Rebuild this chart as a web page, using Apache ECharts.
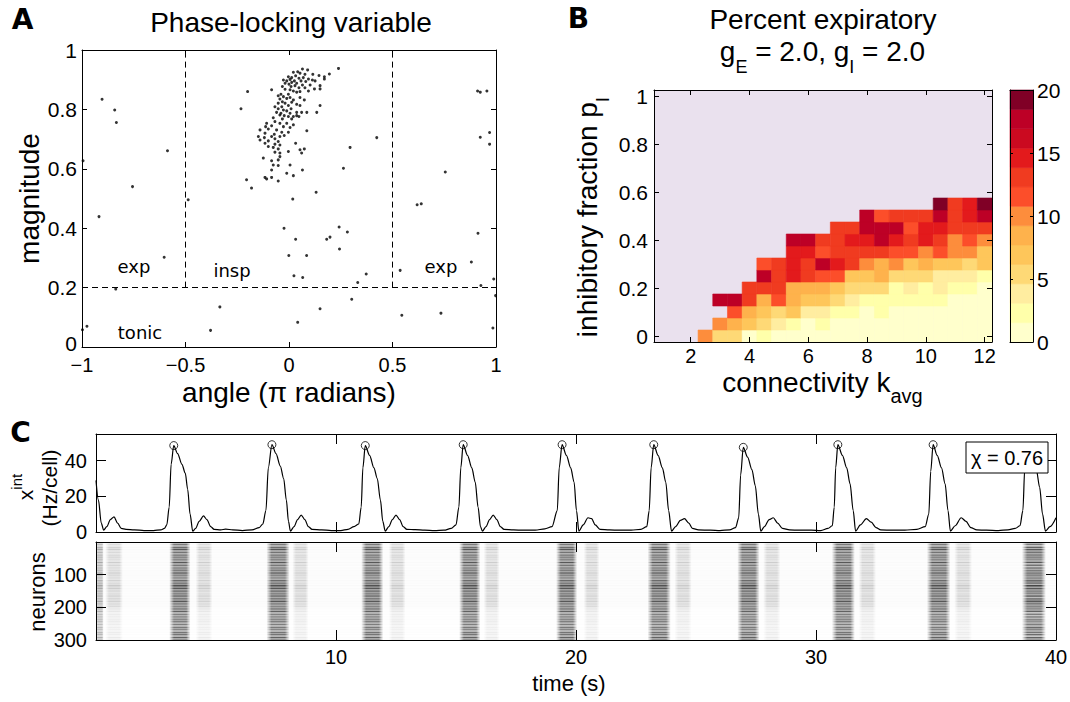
<!DOCTYPE html>
<html><head><meta charset="utf-8">
<script src="https://cdn.jsdelivr.net/npm/echarts@6/dist/echarts.min.js"></script>
<style>html,body{margin:0;padding:0;background:#fff}#c{width:1070px;height:702px}</style>
</head><body><div id="c"></div>
<script>
// ================= Panel A: phase-locking variable =================
const phasePoints = [
 [-0.903,0.834],[-0.842,0.798],[-0.834,0.756],[-0.587,0.661],[-0.756,0.540],[-0.918,0.439],[-0.603,0.302],[-0.837,0.195],
 [-0.976,0.070],[-0.995,0.627],[-0.998,0.058],[-0.487,0.496],[-0.334,0.135],[-0.379,0.056],[0.018,0.498],[-0.024,0.400],
 [0.032,0.363],[-0.001,0.308],[0.085,0.308],[0.024,0.240],[0.066,0.234],[0.042,0.083],[0.131,0.521],[0.150,0.129],
 [0.242,0.404],[0.282,0.387],[0.182,0.363],[0.198,0.370],[0.244,0.330],[0.295,0.672],[0.424,0.705],[0.373,0.246],
 [0.332,0.217],[0.303,0.161],[0.537,0.258],[0.545,0.107],[0.734,0.114],[0.619,0.479],[0.639,0.482],[0.755,0.589],
 [0.911,0.862],[0.924,0.858],[0.956,0.862],[0.924,0.706],[0.969,0.722],[0.969,0.683],[0.913,0.383],[0.881,0.286],
 [0.927,0.207],[0.989,0.229],[0.998,0.173],[0.985,0.064],
 [0.065,0.936],[0.090,0.933],[0.042,0.927],[0.021,0.925],[0.053,0.922],[0.077,0.918],[0.115,0.918],[0.145,0.914],
 [0.171,0.910],[0.195,0.919],[0.239,0.938],
 [-0.003,0.910],[0.013,0.907],[0.032,0.913],[0.048,0.905],[0.069,0.907],[0.094,0.902],[0.113,0.899],[-0.027,0.899],
 [-0.011,0.896],[0.005,0.901],[0.026,0.896],[0.058,0.896],[0.081,0.894],[0.126,0.896],[0.171,0.902],
 [-0.019,0.888],[0.000,0.885],[0.013,0.891],[0.037,0.888],[0.065,0.882],[0.102,0.882],[0.150,0.880],[-0.032,0.877],
 [0.010,0.877],[0.029,0.880],[0.048,0.873],[0.077,0.873],[0.123,0.869],[0.150,0.869],[-0.084,0.866],[-0.200,0.860],
 [-0.019,0.868],[0.005,0.866],[0.021,0.862],[0.037,0.858],[-0.039,0.851],[-0.003,0.851],[0.053,0.860],[0.094,0.862],
 [-0.052,0.846],[-0.027,0.843],[-0.044,0.835],[-0.011,0.837],[0.005,0.840],[0.021,0.832],[0.053,0.840],[0.074,0.832],
 [-0.032,0.826],[-0.052,0.821],[-0.019,0.821],[0.013,0.824],[0.037,0.817],[-0.068,0.809],[-0.035,0.809],[-0.003,0.813],
 [0.053,0.813],[0.150,0.813],[-0.232,0.802],
 [-0.052,0.802],[-0.027,0.798],[-0.011,0.795],[0.010,0.802],[-0.060,0.790],[-0.039,0.787],[0.005,0.787],[0.037,0.790],
 [0.061,0.790],[0.086,0.790],[0.134,0.790],
 [-0.044,0.781],[-0.023,0.779],[-0.003,0.776],[0.021,0.776],[0.037,0.779],[-0.076,0.772],[-0.032,0.768],[0.013,0.768],
 [0.048,0.776],
 [-0.108,0.753],[-0.068,0.759],[-0.044,0.753],[-0.011,0.753],[0.021,0.748],[-0.113,0.742],[-0.084,0.745],[-0.027,0.742],
 [0.005,0.739],
 [-0.140,0.731],[-0.100,0.734],[-0.060,0.731],[-0.035,0.723],[-0.003,0.723],[0.086,0.728],[-0.116,0.720],[-0.071,0.716],
 [-0.148,0.709],[-0.119,0.705],[-0.084,0.709],[-0.044,0.709],[-0.023,0.712],[-0.140,0.697],[-0.100,0.694],[-0.068,0.701],
 [-0.052,0.692],
 [-0.116,0.686],[-0.068,0.683],[-0.044,0.680],[0.032,0.686],[-0.100,0.675],[-0.076,0.672],
 [-0.052,0.667],[0.053,0.664],[0.074,0.667],[-0.068,0.656],[-0.044,0.653],[-0.003,0.658],[0.061,0.653],
 [-0.124,0.636],[-0.044,0.641],[-0.052,0.630],[-0.084,0.627],
 [-0.076,0.613],[0.005,0.613],[-0.052,0.611],[0.263,0.602],
 [-0.084,0.596],[0.065,0.596],[-0.011,0.585],[0.021,0.577],
 [-0.116,0.571],[-0.108,0.566],[-0.084,0.571],[-0.052,0.559],[-0.205,0.563],
 [-0.181,0.535]
];
const phaseBounds = [-0.5, 0.5];     // insp / exp boundaries (pi rad)
const tonicThreshold = 0.2;          // magnitude threshold

// ================= Panel B: percent expiratory =================
const kAvg = [1,1.5,2,2.5,3,3.5,4,4.5,5,5.5,6,6.5,7,7.5,8,8.5,9,9.5,10,10.5,11,11.5,12];
const pInh = [0,0.05,0.1,0.15,0.2,0.25,0.3,0.35,0.4,0.45,0.5,0.55];
const N = null;
const pctExp = [
 [N,N,N,10,5.4,5.4,0.8,2.3,0.8,0.8,0.8,0.8,0.8,0.8,0.8,0.8,0.8,0.8,0.8,0.8,0.8,0.8,0.8],
 [N,N,N,N,10,8.5,6.9,5.4,3.8,2.3,0.8,2.3,0.8,0.8,0.8,0.8,0.8,0.8,0.8,0.8,0.8,0.8,0.8],
 [N,N,N,N,N,11.5,8.5,6.9,5.4,6.9,3.8,3.8,2.3,2.3,0.8,2.3,0.8,0.8,0.8,0.8,0.8,0.8,0.8],
 [N,N,N,N,17.7,17.7,13.1,8.5,11.5,8.5,6.9,6.9,5.4,3.8,2.3,2.3,2.3,2.3,2.3,2.3,0.8,0.8,0.8],
 [N,N,N,N,N,N,13.1,13.1,13.1,8.5,8.5,8.5,6.9,5.4,5.4,5.4,2.3,3.8,2.3,3.8,2.3,2.3,0.8],
 [N,N,N,N,N,N,N,17.7,13.1,14.6,13.1,11.5,11.5,6.9,6.9,8.5,5.4,5.4,5.4,3.8,3.8,3.8,2.3],
 [N,N,N,N,N,N,N,11.5,13.1,14.6,13.1,17.7,14.6,13.1,10,8.5,10,6.9,8.5,6.9,6.9,5.4,6.9],
 [N,N,N,N,N,N,N,N,N,14.6,14.6,11.5,13.1,13.1,13.1,13.1,11.5,11.5,10,11.5,10,10,6.9],
 [N,N,N,N,N,N,N,N,N,17.7,17.7,13.1,13.1,14.6,14.6,17.7,14.6,13.1,14.6,13.1,10,11.5,10],
 [N,N,N,N,N,N,N,N,N,N,N,N,13.1,13.1,17.7,17.7,17.7,11.5,14.6,14.6,13.1,13.1,13.1],
 [N,N,N,N,N,N,N,N,N,N,N,N,N,N,17.7,11.5,13.1,13.1,13.1,17.7,13.1,14.6,17.7],
 [N,N,N,N,N,N,N,N,N,N,N,N,N,N,N,N,N,N,N,19.2,13.1,14.6,19.2]
];
const kTicks = [2,4,6,8,10,12];
const pTicks = [0,0.2,0.4,0.6,0.8,1];
const cbMax = 20;
const cbColors = ['#FFFFCC','#FFFFAA','#FFEDA0','#FED976','#FEC65A','#FEB24C','#FD8D3C',
                  '#FC4E2A','#F03B20','#E31A1C','#CB0A20','#BD0026','#800026'];

// ================= Panel C: integrated rate & raster =================
const rateTrace = [
 [0,29],[0.1,18],[0.22,5],[0.32,1],[0.45,3],[0.6,7],[0.75,8.5],[0.9,5],[1.05,2],[1.25,1.5],[1.6,1.2],[2.0,0.8],[2.4,0.8],
 [2.7,1.2],[2.85,2],[2.95,4],[3.05,14],[3.13,38],[3.24,48.5],[3.4,44],[3.58,38],[3.72,33],[3.82,24],[3.92,10],[4.03,0.5],
 [4.15,2],[4.3,6],[4.48,9],[4.62,7],[4.78,3],[4.92,1.5],[5.2,1.2],[5.4,1.6],[5.7,1.2],[6.1,0.8],[6.5,1.2],[6.8,2.5],
 [6.95,4.5],[7.08,12],[7.18,36],[7.33,49],[7.5,44],[7.68,37],[7.82,30],[7.93,18],[8.02,6],[8.1,0.5],[8.25,3],[8.4,7],
 [8.55,9.5],[8.7,7],[8.85,3],[9.0,1.5],[9.4,1.2],[9.8,0.8],[10.2,0.8],[10.5,1.5],[10.75,3],[10.95,4.5],[11.05,14],
 [11.12,36],[11.22,48.5],[11.4,43],[11.58,36],[11.72,30],[11.85,18],[11.95,6],[12.05,0.5],[12.2,3],[12.35,7],[12.5,9.5],
 [12.65,7],[12.8,3],[12.95,1.5],[13.3,1.3],[13.7,1],[14.1,0.8],[14.5,1],[14.8,2],[15.0,4],[15.12,14],[15.2,36],[15.3,49],
 [15.48,43],[15.66,36],[15.8,28],[15.92,14],[16.02,3],[16.1,0.5],[16.25,3],[16.4,7],[16.55,9.5],[16.7,7],[16.85,3],
 [17.0,1.5],[17.4,1.2],[17.8,1],[18.3,1],[18.7,1.8],[19.0,3],[19.22,12],[19.3,36],[19.42,49],[19.6,43],[19.78,36],
 [19.92,28],[20.02,12],[20.12,0.5],[20.3,4],[20.5,8],[20.65,7.5],[20.8,4],[21.0,1.5],[21.4,1.2],[21.8,1],[22.3,1],
 [22.7,1.5],[22.95,3],[23.05,12],[23.13,36],[23.24,49],[23.42,43],[23.6,36],[23.74,28],[23.86,12],[23.98,0.5],[24.15,3],
 [24.35,6.5],[24.52,7.5],[24.7,5],[24.85,2],[25.1,1.2],[25.6,1],[26.0,0.8],[26.4,1.2],[26.65,2.5],[26.78,8],[26.86,32],
 [26.97,47.5],[27.15,42],[27.33,35],[27.47,26],[27.6,10],[27.7,0.5],[27.85,3],[28.05,7],[28.22,8],[28.4,5],[28.6,2],
 [28.9,1.2],[29.3,1],[29.8,1],[30.2,0.8],[30.5,2],[30.68,3.5],[30.76,14],[30.82,36],[30.91,49],[31.1,43],[31.28,36],
 [31.42,27],[31.55,12],[31.65,0.5],[31.85,4],[32.1,7.5],[32.3,5.5],[32.5,2.5],[32.7,1.2],[33.2,1],[33.7,1],[34.2,1.5],
 [34.55,3],[34.7,10],[34.78,34],[34.88,49],[35.05,43],[35.23,36],[35.38,27],[35.5,12],[35.6,0.5],[35.8,3.5],[36.05,8],
 [36.25,6],[36.45,2.5],[36.7,1.2],[37.1,1],[37.6,0.8],[38.0,1.2],[38.3,2],[38.5,3.5],[38.62,12],[38.7,36],[38.82,48],
 [39.0,42],[39.18,35],[39.32,25],[39.44,10],[39.56,0.5],[39.75,3],[40.0,8]
];
const peakTime = [3.24,7.33,11.22,15.3,19.42,23.24,26.97,30.91,34.88];
const peakRate = [48.5,49,48.5,49,49,49,47.5,49,49];
const chiLabel = 'χ = 0.76';
const rateTicks = [0,20,40];
const timeTicks = [10,20,30,40];
const neuronTicks = [100,200,300];
const burstStart = [0,3.05,7.1,11.05,15.13,19.17,22.98,26.72,30.66,34.62,38.58];
const burstEnd   = [0.32,3.94,8.07,11.97,16.02,20.05,23.95,27.65,31.62,35.6,39.58];
const burstGain  = [0.5,1,1,1,1,1,1,1,1,1,1];
const postStart  = [0.38,4.15,8.18,12.2,16.15,20.32,24.1,27.8,31.78,35.76];
const postEnd    = [1.12,4.85,8.86,12.9,16.82,20.98,24.82,28.52,32.5,36.5];
const rowWeight = [0.55,0.7,0.6,0.85,0.9,0.7, 0.75,0.6,0.85,0.65,0.8,0.6, 0.9,0.7,0.75,0.6,0.85,0.7,
                   0.8,0.9,0.65,0.75,0.6,0.8, 0.85,0.7,1.0,0.95,0.9,0.75, 0.85,0.65,0.9,0.75,0.7,0.85,
                   0.9,0.7,0.75,0.65,0.8,0.7, 0.85,0.6,0.7,0.6,0.75,0.65, 0.8,0.6,0.7,0.55,0.8,0.65,
                   0.6,0.75,0.8,0.6,0.85,0.7];
const rowTonic = [0.9,1,1,0.9,1,0.9,1,1,0.9,1,1,1,0.9,1,1,0.9,1,1,0.9,1,0.6,0.5,0.5,0.45,0.5,0.45,0.4,0.45,0.4,0.45];
const neuronsPerRow = 5;

// ================= build =================
const F = "'Liberation Sans', Arial, Helvetica, sans-serif";
const D = "'DejaVu Sans', sans-serif";
const BLACK = '#000';

const heatData = [];
pInh.forEach((p, j) => kAvg.forEach((k, i) => { const v = pctExp[j][i]; if (v != null) heatData.push([k, p, v]); }));
const kHalf = (kAvg[1] - kAvg[0]) / 2, pHalf = (pInh[1] - pInh[0]) / 2;
const nLev = cbColors.length;
function levelColor(v) { return cbColors[Math.min(nLev - 1, Math.max(0, Math.floor(v / (cbMax / nLev))))]; }
const cbData = cbColors.map((c, i) => [i * cbMax / nLev, (i + 1) * cbMax / nLev, i]);

const rasterData = [];
rowWeight.forEach((w, g) => {
  const r0 = g * neuronsPerRow, r1 = r0 + neuronsPerRow;
  const tonic = rowTonic[Math.floor(g / 2)];
  rasterData.push([0, 40, r0, r1, 0.022 * tonic * w, 2]);
  burstStart.forEach((s, b) => rasterData.push([s, burstEnd[b], r0, r1, 0.72 * w * burstGain[b], 0]));
  postStart.forEach((s, b) => rasterData.push([s, postEnd[b], r0, r1, 0.2 * w * tonic, 1]));
});

function ax(o) {
  const tick = {show: !o.noTicks, inside: true, length: o.tickLen || 5, lineStyle: {color: BLACK, width: 1}};
  if (o.tickValues) tick.customValues = o.tickValues;
  const label = {show: !!o.labels, color: BLACK, fontFamily: F, fontSize: o.fontSize || 21, margin: o.margin == null ? 8 : o.margin};
  if (o.labelValues) label.customValues = o.labelValues;
  if (o.formatter) label.formatter = o.formatter;
  if (o.rich) label.rich = o.rich;
  const a = {type: 'value', gridIndex: o.grid, position: o.pos, min: o.min, max: o.max, z: 10,
    axisLine: {show: true, onZero: false, lineStyle: {color: BLACK, width: 1}},
    axisTick: tick, axisLabel: label, splitLine: {show: false}, splitArea: {show: false}, axisPointer: {show: false}};
  if (o.interval != null) a.interval = o.interval;
  if (o.inverse) a.inverse = true;
  return a;
}
const minus = v => (v < 0 ? '\u2212' + Math.abs(v) : String(v));
const liftZero = v => (v === 0 ? '{z|0}' : String(v));

function T(x, y, text, size, o) {
  o = o || {};
  const st = {text: text, fill: BLACK, fontSize: size, fontFamily: o.family || F, fontWeight: o.weight || 'normal',
    align: o.align || 'center', verticalAlign: 'middle'};
  if (o.rich) st.rich = o.rich;
  return {type: 'text', x: x, y: y, rotation: o.rot || 0, z: 50, silent: true, style: st};
}
const R = Math.PI / 2;
const subRich = (main, sub, pad) => ({m: {fontSize: main, fontFamily: F, fill: BLACK}, s: {fontSize: sub, fontFamily: F, fill: BLACK, padding: [pad, 0, 0, 0]}});

const gridBase = {containLabel: false, outerBoundsMode: 'none'};
const option = {
  animation: false,
  backgroundColor: '#fff',
  grid: [
    Object.assign({left: 82, top: 50, width: 414, height: 297}, gridBase),
    Object.assign({left: 654, top: 90, width: 338, height: 252, show: true, backgroundColor: '#EAE1EE', borderWidth: 0}, gridBase),
    Object.assign({left: 1010, top: 90, width: 23, height: 252}, gridBase),
    Object.assign({left: 96, top: 434, width: 960, height: 98}, gridBase),
    Object.assign({left: 96, top: 542, width: 960, height: 98}, gridBase)
  ],
  xAxis: [
    ax({grid: 0, pos: 'bottom', min: -1, max: 1, interval: 0.5, labels: true, margin: 8, fontSize: 20, formatter: minus}),
    ax({grid: 0, pos: 'top', min: -1, max: 1, interval: 0.5}),
    ax({grid: 1, pos: 'bottom', min: 0.75, max: 12.25, tickValues: kTicks, labelValues: kTicks, labels: true, margin: 4, fontSize: 20}),
    ax({grid: 1, pos: 'top', min: 0.75, max: 12.25, tickValues: kTicks}),
    ax({grid: 2, pos: 'bottom', min: 0, max: 1, noTicks: true}),
    ax({grid: 2, pos: 'top', min: 0, max: 1, noTicks: true}),
    ax({grid: 3, pos: 'bottom', min: 0, max: 40, interval: 10, tickLen: 10}),
    ax({grid: 3, pos: 'top', min: 0, max: 40, interval: 10, tickLen: 10}),
    ax({grid: 4, pos: 'bottom', min: 0, max: 40, tickValues: [10, 20, 30], labelValues: timeTicks, labels: true, tickLen: 10, fontSize: 20, margin: 7}),
    ax({grid: 4, pos: 'top', min: 0, max: 40, tickValues: [10, 20, 30], tickLen: 10})
  ],
  yAxis: [
    ax({grid: 0, pos: 'left', min: 0, max: 1, interval: 0.2, labels: true, margin: 5, formatter: liftZero,
        rich: {z: {fontSize: 21, fontFamily: F, color: BLACK, padding: [0, 0, 8, 0]}}}),
    ax({grid: 0, pos: 'right', min: 0, max: 1, interval: 0.2}),
    ax({grid: 1, pos: 'left', min: -0.025, max: 1.025, tickValues: pTicks, labelValues: pTicks, labels: true, margin: 6}),
    ax({grid: 1, pos: 'right', min: -0.025, max: 1.025, tickValues: pTicks}),
    ax({grid: 2, pos: 'left', min: 0, max: cbMax, interval: 5, tickLen: 3}),
    ax({grid: 2, pos: 'right', min: 0, max: cbMax, interval: 5, tickLen: 3, labels: true, margin: 4}),
    ax({grid: 3, pos: 'left', min: 0, max: 55, tickValues: rateTicks, labelValues: rateTicks, labels: true, tickLen: 10, fontSize: 20, margin: 9}),
    ax({grid: 3, pos: 'right', min: 0, max: 55, tickValues: rateTicks, tickLen: 10}),
    ax({grid: 4, pos: 'left', min: 0, max: 300, inverse: true, tickValues: neuronTicks, labelValues: neuronTicks, labels: true, tickLen: 10, fontSize: 20, margin: 9}),
    ax({grid: 4, pos: 'right', min: 0, max: 300, inverse: true, tickValues: neuronTicks, tickLen: 10})
  ],
  series: [
    {type: 'scatter', xAxisIndex: 0, yAxisIndex: 0, data: phasePoints, symbol: 'circle', symbolSize: 3, silent: true,
     itemStyle: {color: BLACK},
     markLine: {silent: true, symbol: ['none', 'none'], label: {show: false}, animation: false,
       lineStyle: {color: BLACK, width: 1, type: [6, 4]},
       data: [
         [{coord: [phaseBounds[0], tonicThreshold]}, {coord: [phaseBounds[0], 1]}],
         [{coord: [phaseBounds[1], tonicThreshold]}, {coord: [phaseBounds[1], 1]}],
         [{coord: [-1, tonicThreshold]}, {coord: [1, tonicThreshold]}]
       ]}},
    {type: 'custom', xAxisIndex: 2, yAxisIndex: 2, data: heatData, silent: true,
     renderItem: function (params, api) {
       const k = api.value(0), p = api.value(1), v = api.value(2);
       const a = api.coord([k - kHalf, p + pHalf]), b = api.coord([k + kHalf, p - pHalf]);
       const c = levelColor(v);
       return {type: 'rect', shape: {x: a[0], y: a[1], width: b[0] - a[0], height: b[1] - a[1]}, style: {fill: c, stroke: c, lineWidth: 0.6}};
     }},
    {type: 'custom', xAxisIndex: 4, yAxisIndex: 4, data: cbData, silent: true,
     renderItem: function (params, api) {
       const a = api.coord([0, api.value(1)]), b = api.coord([1, api.value(0)]);
       const c = cbColors[api.value(2)];
       return {type: 'rect', shape: {x: a[0], y: a[1], width: b[0] - a[0], height: b[1] - a[1]}, style: {fill: c, stroke: c, lineWidth: 0.6}};
     }},
    {type: 'custom', xAxisIndex: 8, yAxisIndex: 8, data: rasterData, silent: true, clip: true,
     renderItem: function (params, api) {
       const t0 = api.value(0), t1 = api.value(1), r0 = api.value(2), r1 = api.value(3), al = api.value(4), kind = api.value(5);
       const a = api.coord([t0, r0]), b = api.coord([t1, r1]);
       const h = (b[1] - a[1]);
       let fill;
       if (kind === 2) fill = 'rgba(0,0,0,' + al.toFixed(3) + ')';
       else fill = {type: 'linear', x: 0, y: 0, x2: 1, y2: 0, colorStops: [
         {offset: 0, color: 'rgba(0,0,0,0)'},
         {offset: 0.22, color: 'rgba(0,0,0,' + al.toFixed(3) + ')'},
         {offset: 0.8, color: 'rgba(0,0,0,' + al.toFixed(3) + ')'},
         {offset: 1, color: 'rgba(0,0,0,0)'}]};
       return {type: 'rect', shape: {x: a[0], y: a[1] + h * 0.1, width: b[0] - a[0], height: h * 0.8}, style: {fill: fill}};
     }},
    {type: 'line', xAxisIndex: 6, yAxisIndex: 6, data: rateTrace, showSymbol: false, smooth: 0.3, smoothMonotone: 'x',
     clip: true, silent: true, lineStyle: {color: BLACK, width: 1.2}, itemStyle: {color: BLACK}},
    {type: 'scatter', xAxisIndex: 6, yAxisIndex: 6, data: peakTime.map((t, i) => [t, peakRate[i]]), symbol: 'circle', symbolSize: 8,
     silent: true, itemStyle: {color: 'rgba(0,0,0,0)', borderColor: BLACK, borderWidth: 1}}
  ],
  graphic: [
    T(22.5, 19.5, 'A', 28, {family: D, weight: 'bold'}),
    T(578.5, 18.5, 'B', 28, {family: D, weight: 'bold'}),
    T(20.5, 432, 'C', 28, {family: D, weight: 'bold'}),
    T(291, 22.5, 'Phase-locking variable', 28),
    T(289, 392, 'angle (π radians)', 28),
    T(29, 198.5, 'magnitude', 28, {rot: R}),
    T(134, 266, 'exp', 18, {family: D}),
    T(232, 270, 'insp', 18, {family: D}),
    T(441, 266, 'exp', 18, {family: D}),
    T(140, 332.5, 'tonic', 18, {family: D}),
    T(823, 19.5, 'Percent expiratory', 28),
    T(822.5, 51, '{m|g}{s|E}{m| = 2.0, g}{s|I}{m| = 2.0}', 28, {rich: subRich(28, 18, 32)}),
    T(587, 217, '{m|inhibitory fraction p}{s|I}', 28, {rot: R, rich: subRich(28, 19, 30)}),
    T(822.5, 382, '{m|connectivity k}{s|avg}', 28, {rich: subRich(28, 20, 28)}),
    T(25.6, 487, '{m|x}{u|int}', 21, {rot: R, rich: {m: {fontSize: 21, fontFamily: F, fill: BLACK}, u: {fontSize: 15, fontFamily: F, fill: BLACK, padding: [0, 0, 18, 0]}}}),
    T(49.5, 488, '(Hz/cell)', 21, {rot: R}),
    T(37.5, 592, 'neurons', 22, {rot: R}),
    T(569, 683, 'time (s)', 22),
    {type: 'rect', shape: {x: 966, y: 442, width: 82, height: 31}, z: 40, silent: true, style: {fill: '#fff', stroke: BLACK, lineWidth: 1}},
    T(1007, 457.5, chiLabel, 20)
  ]
};
const chart = echarts.init(document.getElementById('c'), null, {renderer: 'svg', width: 1070, height: 702});
chart.setOption(option);
</script>
</body></html>
